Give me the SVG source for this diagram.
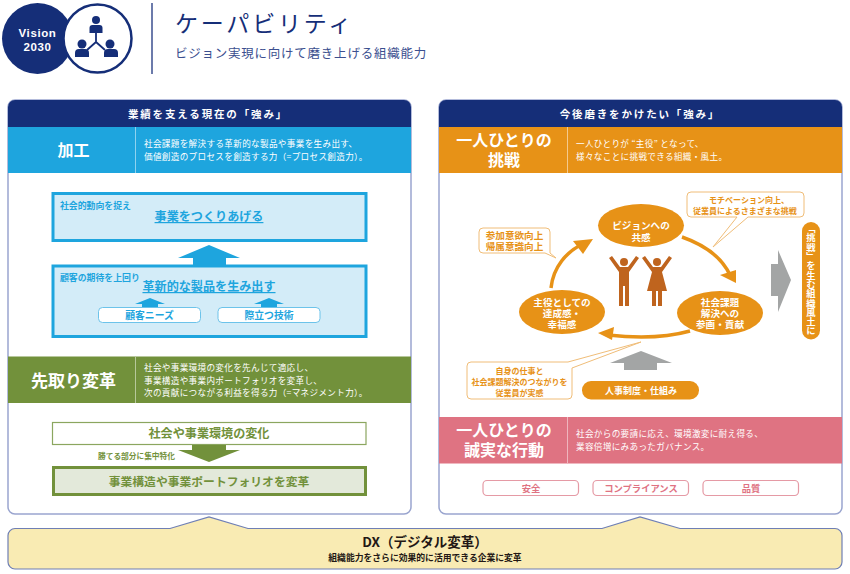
<svg xmlns="http://www.w3.org/2000/svg" width="850" height="574" viewBox="0 0 850 574">
<style>
text{font-family:"Noto Sans CJK JP","Noto Sans",sans-serif;font-weight:700}
.m{text-anchor:middle}
.hd{font-size:10.5px;letter-spacing:1.85px;fill:#fff;text-anchor:middle}
.big{font-size:16px;fill:#fff;text-anchor:middle}
.d{font-size:8.6px;letter-spacing:.32px;fill:#fff;font-weight:400}
.b{fill:#1ea5de}.bt{font-size:12.100px;fill:#1ea5de;text-anchor:middle;text-decoration:underline}
.bs{font-size:8.900px;fill:#1ea5de}
.box{fill:#d3ecf8;stroke:#1ea5de;stroke-width:3}
.pill{fill:#fff;stroke:#6cc3ea;stroke-width:1}
.pt{font-size:9.800px;fill:#1ea5de;text-anchor:middle}
.g{fill:#72913b}
.o{fill:#e79217}
.ot{font-size:9.600px;fill:#fff;text-anchor:middle}
.co{fill:#fff;stroke:#f0bd78;stroke-width:1}
.ct{font-size:8px;fill:#e79217;text-anchor:middle}
.arc{fill:none;stroke:#e79217;stroke-width:3.500}
.tag{fill:#fff;stroke:#e59aa5;stroke-width:1.200}
.tt{font-size:9.300px;fill:#e07282;text-anchor:middle}
.panel{fill:#fff;stroke:#9aa5cf;stroke-width:1.500}
.yl{fill:#f9ebb3;stroke:#6f7fb5;stroke-width:1.200}
.fig{fill:#bf641e}
</style>
<g id="vision-badge">
<circle cx="37.500" cy="38.500" r="35.500" fill="#152e78"/>
<circle cx="97.500" cy="38.500" r="34" fill="#fff" stroke="#152e78" stroke-width="2.500"/>
<text x="37.500" y="37" class="m" font-size="11.500" fill="#fff" letter-spacing=".6" style="font-family:'Liberation Sans',sans-serif">Vision</text>
<text x="37.500" y="51" class="m" font-size="11.500" fill="#fff" letter-spacing=".6" style="font-family:'Liberation Sans',sans-serif">2030</text>
<g fill="#152e78">
<circle cx="96" cy="20" r="4"/><path d="M89.500 33v-5q0-3 3-3h7q3 0 3 3v5z"/>
<circle cx="82" cy="44" r="4.500"/><path d="M75 57v-4q0-4 4-4h6q4 0 4 4v4z"/>
<circle cx="110" cy="44" r="4.500"/><path d="M104 57v-4q0-4 4-4h6q4 0 4 4v4z"/>
</g>
<path d="M96 33v9M96 42l-9 8M96 42l9 8" stroke="#152e78" stroke-width="1.800" fill="none"/>
</g>
<g id="title">
<path d="M152 3v71" stroke="#3b4f8f" stroke-width="1.500"/>
<text x="175" y="32" font-size="23" letter-spacing="2.800" fill="#152e78" style="font-weight:400">ケーパビリティ</text>
<text x="175" y="58" font-size="12.500" letter-spacing=".76" fill="#3b4f8f" style="font-weight:400">ビジョン実現に向けて磨き上げる組織能力</text>
</g>
<g id="left-panel">
<rect class="panel" x="8" y="100" width="403" height="414" rx="7"/>
<path d="M8 127v-20a7 7 0 0 1 7-7h389a7 7 0 0 1 7 7v20z" fill="#152e78"/>
<text x="208" y="118" class="hd">業績を支える現在の「強み」</text>
</g>
<g id="kakou">
<rect x="8" y="127" width="403" height="46" fill="#1ea5de"/>
<path d="M135.500 127v46" stroke="#8ed2ef" stroke-width="1"/>
<text x="73.500" y="156" class="big">加工</text>
<text x="144" y="147" class="d" style="letter-spacing:.33px">社会課題を解決する革新的な製品や事業を生み出す、</text>
<text x="144" y="160" class="d">価値創造のプロセスを創造する力（=プロセス創造力）。</text>
</g>
<g id="box-jigyou">
<rect class="box" x="53" y="193.500" width="313" height="47"/>
<text x="60" y="209" class="bs">社会的動向を捉え</text>
<text x="209" y="221" class="bt">事業をつくりあげる</text>
</g>
<path id="arrow-blue" class="b" d="M209 245L240 258H226V266H193V258H178z"/>
<g id="box-seihin">
<rect class="box" x="53" y="266" width="313" height="70.500"/>
<text x="60" y="281" class="bs">顧客の期待を上回り</text>
<text x="209" y="291" class="bt">革新的な製品を生み出す</text>
</g>
<path id="arrow-b1" class="b" d="M150 298L165 304H158V308H142V304H135z"/>
<path id="arrow-b2" class="b" d="M269 298L284 304H277V308H261V304H254z"/>
<g id="pill-needs"><rect class="pill" x="98.500" y="307.500" width="102" height="15" rx="4"/><text x="149.500" y="319" class="pt">顧客ニーズ</text></g>
<g id="pill-tech"><rect class="pill" x="218" y="307.500" width="102" height="15" rx="4"/><text x="269" y="319" class="pt">際立つ技術</text></g>
<g id="sakidori">
<rect x="8" y="356.500" width="403" height="46.500" class="g"/>
<path d="M135.500 356.500v46.500" stroke="#b7c89a" stroke-width="1"/>
<text x="73.500" y="387" class="big" style="font-size:17px">先取り変革</text>
<text x="144" y="371" class="d">社会や事業環境の変化を先んじて適応し、</text>
<text x="144" y="384" class="d">事業構造や事業内ポートフォリオを変革し、</text>
<text x="144" y="396" class="d">次の貢献につながる利益を得る力（=マネジメント力）。</text>
</g>
<g id="box-henka">
<rect x="52.500" y="422.500" width="313.500" height="22" fill="#fff" stroke="#8ba65f" stroke-width="1.200"/>
<text x="209" y="437.500" class="m" font-size="12.100" fill="#72913b">社会や事業環境の変化</text>
</g>
<path id="arrow-green" class="g" d="M192 445H226V450H240L209 462L178 450H192z"/>
<text x="98" y="458.500" font-size="7.700" fill="#72913b">勝てる部分に集中特化</text>
<g id="box-henkaku">
<rect x="53.500" y="467.500" width="312" height="27" fill="#e3e9da" stroke="#72913b" stroke-width="3"/>
<text x="209" y="485.500" class="m" font-size="11.800" fill="#72913b">事業構造や事業ポートフォリオを変革</text>
</g>
<g id="right-panel">
<rect class="panel" x="439" y="100" width="403" height="414" rx="7"/>
<path d="M439 127v-20a7 7 0 0 1 7-7h389a7 7 0 0 1 7 7v20z" fill="#152e78"/>
<text x="640" y="118" class="hd">今後磨きをかけたい「強み」</text>
</g>
<g id="chousen">
<rect x="439" y="127" width="403" height="46" fill="#e79217"/>
<path d="M567.500 127v46" stroke="#f5c98c" stroke-width="1"/>
<text x="504" y="146" class="big">一人ひとりの</text>
<text x="504" y="166" class="big">挑戦</text>
<text x="576" y="147" class="d">一人ひとりが “主役” となって、</text>
<text x="576" y="160" class="d">様々なことに挑戦できる組織・風土。</text>
</g>
<g id="connectors">
<path class="arc" d="M551 288C553 268 566 251 585 243"/>
<path class="o" d="M593 239L573 241L583 254z"/>
<path class="arc" d="M682 237C705 245 722 258 730 275"/>
<path class="o" d="M736 283L720 275L736 270z"/>
<path class="arc" d="M690 331C665 338 635 338 608 335"/>
<path class="o" d="M598 333L614 327L612 340z"/>
</g>
<g id="node-vision"><ellipse class="o" cx="641" cy="225.500" rx="43" ry="21.500"/><text x="641" y="229" class="ot">ビジョンへの</text><text x="641" y="241" class="ot">共感</text></g>
<g id="node-shuyaku"><ellipse class="o" cx="562" cy="312" rx="43" ry="22"/><text x="562" y="305.500" class="ot">主役としての</text><text x="562" y="317" class="ot">達成感・</text><text x="562" y="328" class="ot">幸福感</text></g>
<g id="node-shakai"><ellipse class="o" cx="720" cy="313" rx="43" ry="22"/><text x="720" y="305.500" class="ot">社会課題</text><text x="720" y="317" class="ot">解決への</text><text x="720" y="328" class="ot">参画・貢献</text></g>
<g id="figures" class="fig">
<circle cx="624" cy="262" r="4"/>
<path d="M609 258L612 256L620 267H628L636 256L639 258L629 272V306H625V286H623V306H619V272z"/>
<circle cx="657" cy="262" r="4"/>
<path d="M642 258L645 256L653 267H661L669 256L672 258L662 272L667 291H662V306H658V291H656V306H652V291H647L652 272z"/>
</g>
<g id="callout-motivation">
<path class="co" d="M691 192H800a4 4 0 0 1 4 4v17a4 4 0 0 1-4 4H748L713 247L737 217H691a4 4 0 0 1-4-4v-17a4 4 0 0 1 4-4z"/>
<text x="749" y="203" class="ct">モチベーション向上、</text>
<text x="745" y="214" class="ct">従業員によるさまざまな挑戦</text>
</g>
<g id="callout-sanka">
<path class="co" d="M483 228H546a4 4 0 0 1 4 4v21l6 5L545 253H483a4 4 0 0 1-4-4v-17a4 4 0 0 1 4-4z"/>
<text x="514.500" y="239" class="ct" style="font-size:9.600px">参加意欲向上</text>
<text x="514.500" y="250" class="ct" style="font-size:9.600px">帰属意識向上</text>
</g>
<g id="callout-jishin">
<path class="co" d="M471 362H568L641 342L572 368V395a4 4 0 0 1-4 4H471a4 4 0 0 1-4-4V366a4 4 0 0 1 4-4z"/>
<text x="519.500" y="373.500" class="ct">自身の仕事と</text>
<text x="519.500" y="384.500" class="ct">社会課題解決のつながりを</text>
<text x="519.500" y="395.500" class="ct">従業員が実感</text>
</g>
<path id="arrow-gray-up" fill="#a3a5a5" d="M641 351L672 363H657V370H624V363H610z"/>
<path id="arrow-gray-right" fill="#a3a5a5" d="M771 264H778V250L791 280L778 312V296H771z"/>
<g id="pill-jinji"><rect class="o" x="582" y="381" width="117" height="18.500" rx="9"/><text x="641" y="394" class="ot" style="font-size:9px">人事制度・仕組み</text></g>
<g id="pill-fudo"><rect class="o" x="802" y="222" width="18" height="117.500" rx="9"/><text x="811" y="224" font-size="9.300" fill="#fff" style="writing-mode:vertical-rl">「挑戦」を生む組織風土に</text></g>
<g id="seijitsu">
<rect x="439" y="417" width="403" height="46.500" fill="#df7382"/>
<path d="M567.500 417v46.500" stroke="#efb5bd" stroke-width="1"/>
<text x="504" y="436" class="big">一人ひとりの</text>
<text x="504" y="456" class="big">誠実な行動</text>
<text x="576" y="437" class="d">社会からの要請に応え、環境激変に耐え得る、</text>
<text x="576" y="450" class="d">業容倍増にみあったガバナンス。</text>
</g>
<g id="tag-anzen"><rect class="tag" x="483" y="480.500" width="95.500" height="15" rx="4"/><text x="531" y="492" class="tt">安全</text></g>
<g id="tag-comp"><rect class="tag" x="593" y="480.500" width="95.500" height="15" rx="4"/><text x="641" y="492" class="tt">コンプライアンス</text></g>
<g id="tag-hinshitsu"><rect class="tag" x="703" y="480.500" width="95.500" height="15" rx="4"/><text x="751" y="492" class="tt">品質</text></g>
<g id="dx">
<path class="yl" d="M15 528.500H170L209 517L248 528.500H602L640 517L680 528.500H835a7 7 0 0 1 7 7V562a7 7 0 0 1-7 7H15a7 7 0 0 1-7-7V535.500a7 7 0 0 1 7-7z"/>
<text x="425" y="547" class="m" font-size="13.500" fill="#231815">DX（デジタル変革）</text>
<text x="425" y="561" class="m" font-size="8.800" fill="#231815">組織能力をさらに効果的に活用できる企業に変革</text>
</g>
</svg>
